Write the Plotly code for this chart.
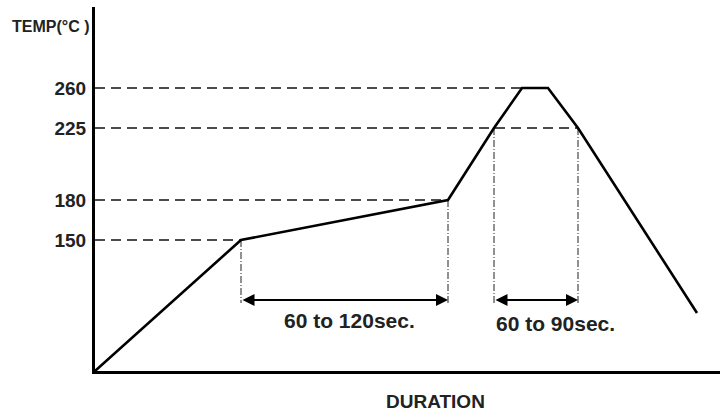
import plotly.graph_objects as go

# Reflow profile (schematic units: x = duration position, y = temperature level position)
profile_x = [0, 146, 353, 399, 427, 453, 483, 602]
profile_y = [0, 131, 171, 243, 283, 283, 243, 58]

# Temperature tick labels and their schematic positions
temp_labels = ["150", "180", "225", "260"]
temp_pos = [131, 171, 243, 283]
# x end of each horizontal dashed guide line
guide_end_x = [146, 353, 483, 427]

# Time windows
window1 = (146, 353)
window2 = (399, 483)
window_labels = ["60 to 120sec.", "60 to 90sec."]
arrow_y = 71

FONT = "Liberation Sans, Arial, sans-serif"
fig = go.Figure()

# horizontal dashed guides
for yv, xe in zip(temp_pos, guide_end_x):
    fig.add_trace(go.Scatter(x=[0, xe], y=[yv, yv], mode="lines",
                             line=dict(color="#111", width=1.5, dash="10px,6px"),
                             hoverinfo="skip", showlegend=False))

# vertical dashed guides
for xv, yv in [(window1[0], 131), (window1[1], 171), (window2[0], 243), (window2[1], 243)]:
    fig.add_trace(go.Scatter(x=[xv, xv], y=[yv, arrow_y - 3], mode="lines",
                             line=dict(color="#222", width=1, dash="7px,2px,1px,2px"),
                             hoverinfo="skip", showlegend=False))

# profile
fig.add_trace(go.Scatter(x=profile_x, y=profile_y, mode="lines",
                         line=dict(color="#000", width=2.6),
                         hoverinfo="skip", showlegend=False))

# double arrows
for (x0, x1) in [window1, window2]:
    fig.add_annotation(x=x1, y=arrow_y, ax=x0, ay=arrow_y, xref="x", yref="y",
                       axref="x", ayref="y", text="", showarrow=True,
                       arrowhead=2, startarrowhead=2, arrowside="end+start",
                       arrowwidth=2, arrowsize=1.2, arrowcolor="#000")

fig.add_annotation(x=(window1[0] + window1[1]) / 2 + 5, y=arrow_y - 20,
                   text="<b>" + window_labels[0] + "</b>",
                   showarrow=False, font=dict(family=FONT, size=21, color="#222"))
fig.add_annotation(x=(window2[0] + window2[1]) / 2 + 19, y=arrow_y - 23,
                   text="<b>" + window_labels[1] + "</b>",
                   showarrow=False, font=dict(family=FONT, size=21, color="#222"))

# axis titles (paper coords: plot area is 625 x 364 px, left=95, top=7)
fig.add_annotation(x=(10 - 95) / 625, y=1 - (26 - 7) / 364, xref="paper", yref="paper",
                   text="<b>TEMP(°C )</b>", showarrow=False, xanchor="left", yanchor="middle",
                   font=dict(family=FONT, size=16, color="#222"))
fig.add_annotation(x=(435 - 95) / 625, y=-(402 - 371) / 364, xref="paper", yref="paper",
                   text="<b>DURATION</b>", showarrow=False, xanchor="center", yanchor="middle",
                   font=dict(family=FONT, size=19, color="#222"))

fig.update_layout(
    width=720, height=414,
    margin=dict(l=95, r=0, t=7, b=43, autoexpand=False),
    paper_bgcolor="white", plot_bgcolor="white",
    xaxis=dict(range=[0, 625], showgrid=False, zeroline=False, showticklabels=False,
               showline=True, linecolor="#000", linewidth=3, ticks=""),
    yaxis=dict(range=[0, 364], showgrid=False, zeroline=False,
               tickvals=temp_pos, ticktext=["<b>" + t + "</b>" for t in temp_labels],
               tickfont=dict(family=FONT, size=19, color="#222"),
               showline=True, linecolor="#000", linewidth=3, ticks="",
               ticklabelstandoff=2),
)

fig.write_html("out.html", config={"displayModeBar": False},
               post_script="document.body.style.margin='0';document.body.style.padding='0';")
